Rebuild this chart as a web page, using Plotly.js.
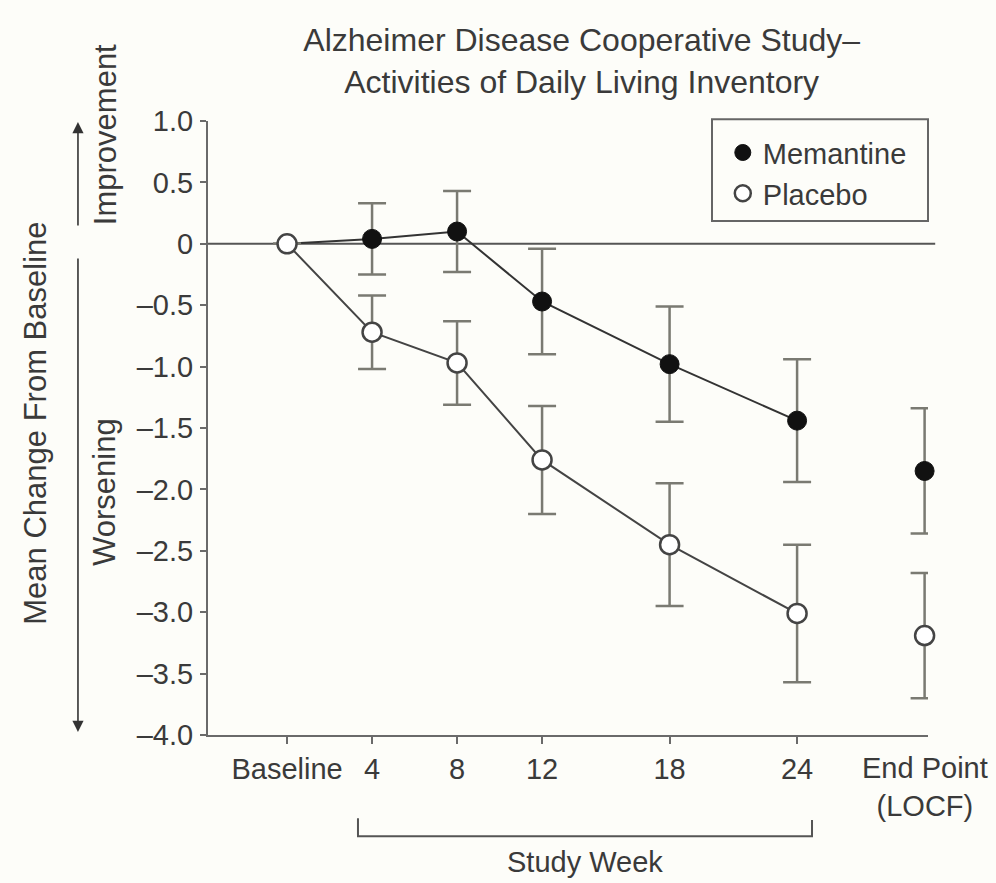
<!DOCTYPE html>
<html>
<head>
<meta charset="utf-8">
<script src="https://cdn.plot.ly/plotly-3.0.1.min.js"></script>
<style>
  html, body { margin: 0; padding: 0; background: #fdfdf9; }
  #chart { width: 996px; height: 883px; }
</style>
</head>
<body>
<div id="chart"></div>
<script>
// Study weeks (0 = baseline) and the position used for the LOCF end point
const weeks = [0, 4, 8, 12, 18, 24];
const weekLabels = ['Baseline', '4', '8', '12', '18', '24'];
const endPointX = [30];
const endPointLabel = 'End Point<br>(LOCF)';

// Mean change from baseline (ADCS-ADL) and error half-widths
const memantineMean = [0, 0.04, 0.10, -0.47, -0.98, -1.44];
const memantineErr  = [0, 0.29, 0.33, 0.43, 0.47, 0.50];
const memantineEnd  = [-1.85];
const memantineEndErr = [0.51];

const placeboMean = [0, -0.72, -0.97, -1.76, -2.45, -3.01];
const placeboErr  = [0, 0.30, 0.34, 0.44, 0.50, 0.56];
const placeboEnd  = [-3.19];
const placeboEndErr = [0.51];

// y ticks
const yTicks = [1, 0.5, 0, -0.5, -1, -1.5, -2, -2.5, -3, -3.5, -4];
const yTickText = ['1.0', '0.5', '0', '\u20130.5', '\u20131.0', '\u20131.5', '\u20132.0',
                   '\u20132.5', '\u20133.0', '\u20133.5', '\u20134.0'];

const FONT = 'Liberation Sans, Arial, Helvetica, sans-serif';
const TXT = '#3a3a3a';
const AX = '#6a6a6a';

const memFilled = { symbol: 'circle', size: 19, color: '#111', line: { color: '#111', width: 1 } };
const plaOpen = { symbol: 'circle', size: 19, color: '#ffffff', line: { color: '#444', width: 2.5 } };
const errStyle = (arr) => ({ type: 'data', array: arr, visible: true, color: '#7a7a72', thickness: 2.5, width: 14 });

const traces = [
  // connecting lines across the study weeks
  { x: weeks, y: memantineMean, mode: 'lines', line: { color: '#333', width: 2 },
    showlegend: false, hoverinfo: 'skip' },
  { x: weeks.concat(endPointX), y: memantineMean.concat(memantineEnd), mode: 'markers',
    name: 'Memantine', marker: memFilled, cliponaxis: false,
    error_y: errStyle(memantineErr.concat(memantineEndErr)), legendgroup: 'a' },
  { x: weeks, y: placeboMean, mode: 'lines', line: { color: '#444', width: 2 },
    showlegend: false, hoverinfo: 'skip' },
  { x: weeks.concat(endPointX), y: placeboMean.concat(placeboEnd), mode: 'markers',
    name: 'Placebo', marker: plaOpen, cliponaxis: false,
    error_y: errStyle(placeboErr.concat(placeboEndErr)), legendgroup: 'b' }
];

const layout = {
  width: 996, height: 883, autosize: false,
  paper_bgcolor: '#fdfdf9', plot_bgcolor: '#fdfdf9',
  margin: { l: 208, r: 68, t: 121, b: 148 },
  font: { family: FONT, color: TXT, size: 29 },
  title: {
    text: 'Alzheimer Disease Cooperative Study\u2013<br>Activities of Daily Living Inventory',
    font: { family: FONT, size: 32, color: TXT },
    xref: 'paper', x: 0.519, xanchor: 'center',
    yref: 'container', y: 1 - 51 / 883, yanchor: 'middle'
  },
  xaxis: {
    range: [-3.72, 30.16], tickmode: 'array', tickvals: weeks, ticktext: weekLabels,
    showline: true, linecolor: AX, linewidth: 2, ticks: 'outside', ticklen: 7,
    tickcolor: AX, tickwidth: 2, showgrid: false, zeroline: false,
    tickfont: { family: FONT, size: 29, color: TXT }, ticklabelstandoff: 0
  },
  yaxis: {
    range: [-4, 1], tickmode: 'array', tickvals: yTicks, ticktext: yTickText,
    showline: true, linecolor: AX, linewidth: 2, ticks: 'outside', ticklen: 6,
    tickcolor: AX, tickwidth: 2, showgrid: false, zeroline: false,
    tickfont: { family: FONT, size: 29, color: TXT }, ticklabelstandoff: 1
  },
  legend: {
    x: 0.715, xanchor: 'left', y: 0.99, yanchor: 'top',
    bgcolor: 'rgba(0,0,0,0)', borderwidth: 0,
    font: { family: FONT, size: 29, color: TXT },
    traceorder: 'normal', tracegroupgap: 0
  },
  shapes: [
    // zero reference line
    { type: 'line', xref: 'paper', yref: 'y', x0: 0, x1: 1.01, y0: 0, y1: 0,
      line: { color: '#555', width: 2 }, layer: 'below' },
    // legend frame
    { type: 'rect', xref: 'paper', yref: 'paper', x0: 0.7, x1: 1.0, y0: 0.837, y1: 1.003,
      line: { color: '#666', width: 2 }, fillcolor: 'rgba(0,0,0,0)' },
    // study-week bracket under the axis
    { type: 'path', xref: 'paper', yref: 'paper',
      path: 'M 0.2083 -0.1354 L 0.2083 -0.1648 L 0.8389 -0.1648 L 0.8389 -0.1386',
      line: { color: '#555', width: 2 } }
  ],
  annotations: [
    { text: endPointLabel, xref: 'x', x: endPointX[0], yref: 'paper', y: -0.024,
      yanchor: 'top', xanchor: 'center', showarrow: false,
      font: { family: FONT, size: 29, color: TXT } },
    { text: 'Study Week', xref: 'paper', x: 0.523, yref: 'paper', y: -0.207,
      xanchor: 'center', yanchor: 'middle', showarrow: false,
      font: { family: FONT, size: 29, color: TXT } },
    { text: 'Mean Change From Baseline', xref: 'paper', x: -0.240, yref: 'paper', y: 0.5073,
      textangle: -90, xanchor: 'center', yanchor: 'middle', showarrow: false,
      font: { family: FONT, size: 31, color: TXT } },
    { text: 'Improvement', xref: 'paper', x: -0.143, yref: 'paper', y: 0.977,
      textangle: -90, xanchor: 'center', yanchor: 'middle', showarrow: false,
      font: { family: FONT, size: 31, color: TXT } },
    { text: 'Worsening', xref: 'paper', x: -0.143, yref: 'paper', y: 0.396,
      textangle: -90, xanchor: 'center', yanchor: 'middle', showarrow: false,
      font: { family: FONT, size: 31, color: TXT } },
    // direction arrows
    { text: '', xref: 'paper', yref: 'paper', x: -0.1806, y: 0.9984,
      axref: 'pixel', ayref: 'pixel', ax: 0, ay: 105, showarrow: true,
      arrowhead: 2, arrowsize: 1.4, arrowwidth: 1.6, arrowcolor: '#333' },
    { text: '', xref: 'paper', yref: 'paper', x: -0.1806, y: 0.005,
      axref: 'pixel', ayref: 'pixel', ax: 0, ay: -475, showarrow: true,
      arrowhead: 2, arrowsize: 1.4, arrowwidth: 1.6, arrowcolor: '#333' }
  ]
};

Plotly.newPlot('chart', traces, layout, { displayModeBar: false, staticPlot: true });
</script>
</body>
</html>
